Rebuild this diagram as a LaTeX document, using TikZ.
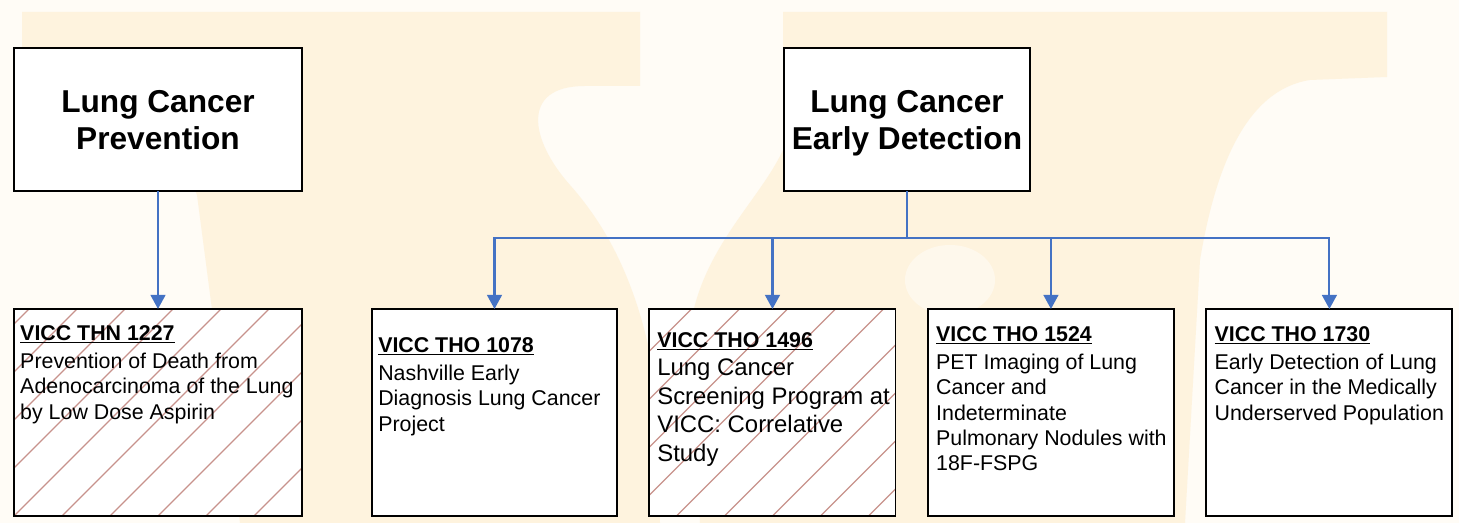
\documentclass[tikz,border=0pt]{standalone}
\usepackage{fontspec}
\setmainfont{Liberation Sans}
\usetikzlibrary{arrows.meta,positioning}
\definecolor{ctblue}{HTML}{4472C4}
\definecolor{cthatchred}{RGB}{200,146,140}
\definecolor{ctcream}{RGB}{254,243,222}
\definecolor{ctpaper}{RGB}{255,252,246}
\tikzset{
  cttop/.style={draw, line width=1.4pt, fill=white, align=center, inner sep=0pt, outer sep=0pt, text depth=0pt, minimum height=3.575cm, font=\fontsize{22.5}{26.3}\selectfont\bfseries},
  ctbox/.style={draw, line width=1.4pt, fill=white, inner sep=0pt, outer sep=0pt, minimum height=5.175cm, minimum width=6.15cm},
  ctnote/.style={align=left, inner sep=0pt, font=\fontsize{15.2}{18.1}\selectfont},
  cthatch/.style={path picture={\foreach \k in {-9,...,4} \draw[cthatchred, line width=0.9pt] ([xshift=\k*1.2cm]path picture bounding box.south) -- ++(300,-300);}},
  ctarrow/.style={draw=ctblue, line width=1.5pt, -{Triangle[width=10.5pt,length=10pt]}},
  ctline/.style={draw=ctblue, line width=1.5pt}
}
\newcommand{\cthead}[1]{\underline{\textbf{#1}}}

\begin{document}
\begin{tikzpicture}[x=0.025cm, y=-0.025cm]
\useasboundingbox (0,0) rectangle (1459,523);
\fill[ctpaper] (0,0) rectangle (1459,523);
\fill[ctcream] (22,12) -- (640,12) -- (640,86) -- (585,86) .. controls (520,86) and (530,140) .. (570,185) .. controls (610,230) and (640,290) .. (655,380) -- (660,523) -- (240,523) -- (197,195) -- (140,48) -- (22,48) -- cycle;
\fill[ctcream] (783,12) -- (1387,12) -- (1387,77) -- (1310,80) .. controls (1245,90) and (1215,170) .. (1200,260) -- (1185,523) -- (700,523) -- (690,330) .. controls (700,250) and (760,200) .. (783,150) -- cycle;
\fill[ctpaper, opacity=0.6] (950,280) ellipse [x radius=45, y radius=35];

\node[cttop, minimum width=7.2cm] (prev) at (158,119.5) {Lung Cancer\\Prevention};
\node[cttop, minimum width=6.15cm] (det) at (907,119.5) {Lung Cancer\\Early Detection};
\node[ctbox, cthatch, minimum width=7.2cm] (b1) at (158,412.5) {};
\node[ctbox, minimum width=6.125cm] (b2) at (494.5,412.5) {};
\node[ctbox, cthatch, right=0.81cm of b2] (b3) {};
\node[ctbox, right=0.81cm of b3] (b4) {};
\node[ctbox, right=0.81cm of b4] (b5) {};

\node[ctnote, below right=0.4cm and 0.15cm of b1.north west] (t1) {\cthead{VICC THN 1227}\\[1.8pt]Prevention of Death from\\Adenocarcinoma of the Lung\\by Low Dose Aspirin};
\node[ctnote, below right=0.7cm and 0.15cm of b2.north west] (t2) {\cthead{VICC THO 1078}\\[1.8pt]Nashville Early\\Diagnosis Lung Cancer\\Project};
\node[ctnote, font=\fontsize{17}{20.3}\selectfont, below right=0.575cm and 0.19cm of b3.north west] (t3) {{\fontsize{15.2}{18.1}\selectfont\cthead{VICC THO 1496}}\\Lung Cancer\\Screening Program at\\VICC: Correlative\\Study};
\node[ctnote, below right=0.425cm and 0.2cm of b4.north west] (t4) {\cthead{VICC THO 1524}\\[1.8pt]PET Imaging of Lung\\Cancer and\\Indeterminate\\Pulmonary Nodules with\\18F-FSPG};
\node[ctnote, below right=0.425cm and 0.2cm of b5.north west] (t5) {\cthead{VICC THO 1730}\\[1.8pt]Early Detection of Lung\\Cancer in the Medically\\Underserved Population};

\coordinate (bus) at (907,238);
\draw[ctarrow] (prev) -- (b1);
\draw[ctline] (det) -- (bus);
\foreach \b in {b2,b3,b4,b5}
  \draw[ctarrow] (bus) -| (\b.north);
\end{tikzpicture}
\end{document}
